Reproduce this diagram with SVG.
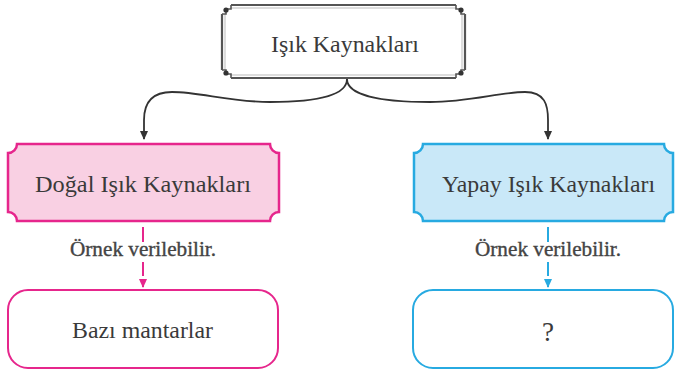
<svg xmlns="http://www.w3.org/2000/svg" width="675" height="373" viewBox="0 0 675 373">
<defs>
<marker id="ah" markerWidth="8" markerHeight="9" refX="4" refY="8" markerUnits="userSpaceOnUse" viewBox="0 0 8 9">
<path d="M0,0 L8,0 L4,9 Z" fill="#333"/>
</marker>
<marker id="ahp" markerWidth="8" markerHeight="9" refX="4" refY="8" markerUnits="userSpaceOnUse" viewBox="0 0 8 9">
<path d="M0,0 L8,0 L4,9 Z" fill="#e6268c"/>
</marker>
<marker id="ahb" markerWidth="8" markerHeight="9" refX="4" refY="8" markerUnits="userSpaceOnUse" viewBox="0 0 8 9">
<path d="M0,0 L8,0 L4,9 Z" fill="#27aae1"/>
</marker>
</defs>
<style>
text{font-family:"Liberation Serif","Times New Roman",serif;fill:#3a3a3a;text-anchor:middle}
.big{font-size:23px}
.small{font-size:20px;fill:#444;stroke:#444;stroke-width:0.35}
.pink{fill:#f9d0e3;stroke:#e6268c;stroke-width:2.5}
.blue{fill:#c9e8f8;stroke:#27aae1;stroke-width:2.5}
.pinkw{fill:#fff;stroke:#e6268c;stroke-width:2}
.bluew{fill:#fff;stroke:#27aae1;stroke-width:2}
.brace{fill:none;stroke:#333;stroke-width:1.8}
</style>
<rect width="675" height="373" fill="#fff"/>
<g id="connectors">
<path class="brace" d="M347,79 C347,95 320,102 270,102 C230,102 200,92 172,92 C150,92 144,105 144,120 L144,139" marker-end="url(#ah)"/>
<path class="brace" d="M347,79 C347,95 380,102 430,102 C470,102 500,92 525,92 C545,92 548,105 548,120 L548,139" marker-end="url(#ah)"/>
<path d="M143,227 L143,242" stroke="#e6268c" stroke-width="2" fill="none"/>
<path d="M143,262 L143,287" stroke="#e6268c" stroke-width="2" fill="none" stroke-dasharray="14,3" marker-end="url(#ahp)"/>
<text class="small" x="143" y="256" textLength="146" lengthAdjust="spacingAndGlyphs">Örnek verilebilir.</text>
<path d="M548,227 L548,242" stroke="#27aae1" stroke-width="2" fill="none"/>
<path d="M548,262 L548,287" stroke="#27aae1" stroke-width="2" fill="none" stroke-dasharray="14,3" marker-end="url(#ahb)"/>
<text class="small" x="548" y="256" textLength="146" lengthAdjust="spacingAndGlyphs">Örnek verilebilir.</text>
</g>
<g id="isik-kaynaklari">
<path d="M231,5 L456,5 M465,14 L465,70 M456,78 L231,78 M222,70 L222,14" stroke="#555" stroke-width="2.2" fill="none"/>
<path d="M231,8 L456,8 M462,14 L462,70 M456,75 L231,75 M225,70 L225,14" stroke="#aaa" stroke-width="0.8" fill="none"/>
<path d="M231,5 L231,9 L226,9 L226,14 L222,14 M456,5 L456,9 L461,9 L461,14 L465,14 M456,78 L456,74 L461,74 L461,70 L465,70 M231,78 L231,74 L226,74 L226,70 L222,70" stroke="#555" stroke-width="1.6" fill="none"/>
<circle cx="226" cy="10" r="2.6" fill="#333"/>
<circle cx="461" cy="10" r="2.6" fill="#333"/>
<circle cx="461" cy="73" r="2.6" fill="#333"/>
<circle cx="226" cy="73" r="2.6" fill="#333"/>
<text class="big" x="345" y="52" textLength="148" lengthAdjust="spacingAndGlyphs">Işık Kaynakları</text>
</g>
<g id="dogal">
<path class="pink" d="M17,144 L270,144 A9,9 0 0 0 279,153 L279,212 A9,9 0 0 0 270,221 L17,221 A9,9 0 0 0 8,212 L8,153 A9,9 0 0 0 17,144 Z"/>
<text class="big" x="143" y="192" textLength="216" lengthAdjust="spacingAndGlyphs">Doğal Işık Kaynakları</text>
</g>
<g id="yapay">
<path class="blue" d="M423,144 L664,144 A9,9 0 0 0 673,153 L673,212 A9,9 0 0 0 664,221 L423,221 A9,9 0 0 0 414,212 L414,153 A9,9 0 0 0 423,144 Z"/>
<text class="big" x="548.5" y="192" textLength="213" lengthAdjust="spacingAndGlyphs">Yapay Işık Kaynakları</text>
</g>
<g id="bazi-mantarlar">
<rect class="pinkw" x="8" y="290" width="270" height="78" rx="20"/>
<text class="big" x="142.5" y="338" textLength="141" lengthAdjust="spacingAndGlyphs">Bazı mantarlar</text>
</g>
<g id="soru">
<rect class="bluew" x="413" y="290" width="260" height="78" rx="20"/>
<text x="548" y="341" style="font-size:27px">?</text>
</g>
</svg>
